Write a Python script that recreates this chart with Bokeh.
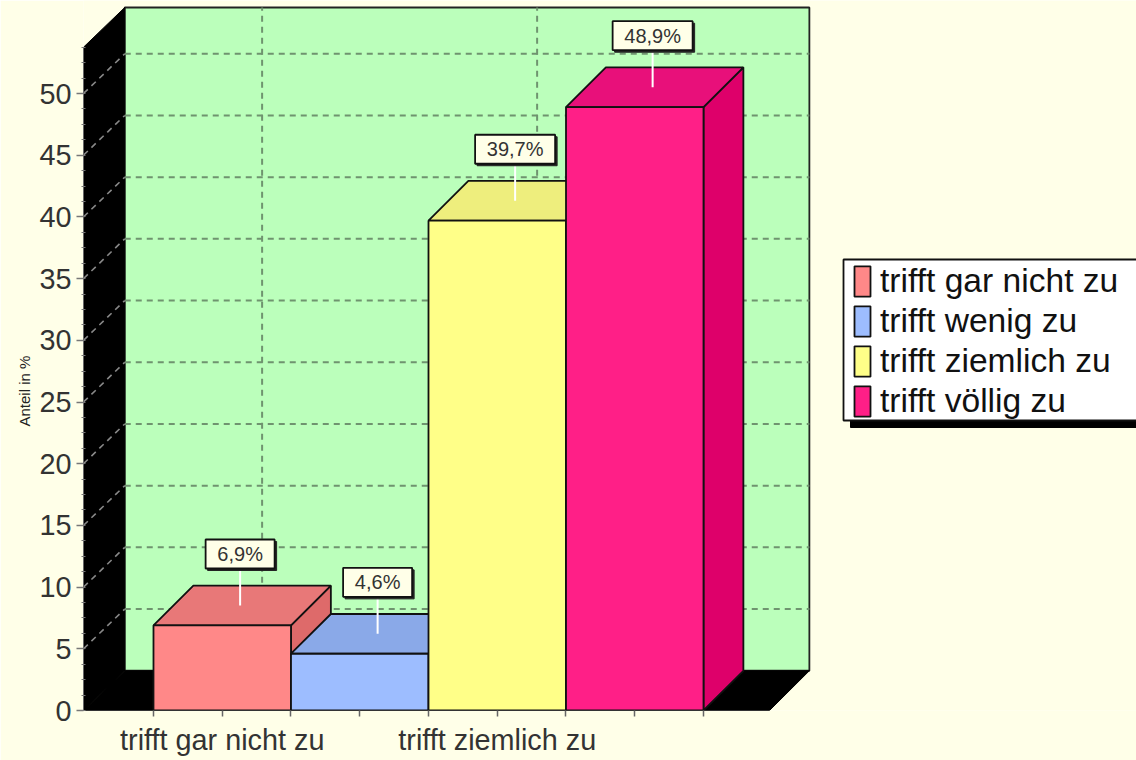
from bokeh.embed import file_html
from bokeh.resources import INLINE
from bokeh.plotting import figure
from bokeh.models import Range1d, FixedTicker, SingleIntervalTicker, Legend, LegendItem, Title
from bokeh.core.properties import value

categories = ["trifft gar nicht zu", "trifft wenig zu", "trifft ziemlich zu", "trifft völlig zu"]
values = [6.9, 4.6, 39.7, 48.9]
value_labels = ["6,9%", "4,6%", "39,7%", "48,9%"]
front_colors = ["#FF8888", "#9DBDFF", "#FFFF88", "#FF1F87"]
top_colors = ["#E87878", "#8AA9E8", "#EEEE7D", "#E8107A"]
side_colors = ["#DE6A6A", "#7F9CE0", "#E4E470", "#DE006A"]
y_major = [5, 10, 15, 20, 25, 30, 35, 40, 45, 50]
x_ticks = [0, 0.5, 1, 1.5, 2, 2.5, 3, 3.5, 4]
x_tick_labels = {0.5: categories[0], 2.5: categories[2]}
box_widths = [69, 69, 80, 80]

FONT = "Liberation Sans"
BG = "#FFFFE8"
WALL = "#BBFFBB"
PXX = 137.5   # pixels per bar
PXY = 12.34   # pixels per percent
X0, X1 = -0.509, 7.149
Y0, Y1 = 0, 710 / PXY
AX_X1, AX_Y1 = 4.48, 53.75
DX, DY = 0.29, 3.22

p = figure(width=1136, height=760, output_backend="svg", toolbar_location=None,
           x_range=Range1d(X0, X1), y_range=Range1d(Y0, Y1),
           background_fill_color=BG, border_fill_color=BG,
           min_border_left=83, min_border_right=0, min_border_top=0, min_border_bottom=50,
           outline_line_color=None, tools="")
p.grid.visible = False

# 3D walls
wx0, wx1 = X0 + 0.3, AX_X1 + DX
wy0, wy1 = DY, AX_Y1 + DY
p.quad(left=wx0, right=wx1, bottom=wy0, top=wy1, fill_color=WALL,
       line_color="#222222", line_width=1.8)
p.patch([X0, X0, wx0, wx0], [0, AX_Y1, wy1, wy0], fill_color="black", line_color="black")
p.patch([X0, wx0, wx1, AX_X1], [0, wy0, wy0, 0], fill_color="black", line_color="black")

# grid
p.multi_line([[wx0, wx1] for _ in y_major], [[v + DY, v + DY] for v in y_major],
             line_color="#6F936F", line_width=2, line_dash="6 5")
p.multi_line([[X0, wx0] for _ in y_major], [[v, v + DY] for v in y_major],
             line_color="#888888", line_width=1.6, line_dash="6 5")
p.multi_line([[t + DX, t + DX] for t in x_tick_labels], [[wy0, wy1] for _ in x_tick_labels],
             line_color="#6F936F", line_width=2, line_dash="6 5")

# bars
fronts = []
for i, v in enumerate(values):
    p.patch([i + 1, i + 1 + DX, i + 1 + DX, i + 1], [v, v + DY, DY, 0],
            fill_color=side_colors[i], line_color="#111111", line_width=1.8)
    p.patch([i, i + DX, i + 1 + DX, i + 1], [v, v + DY, v + DY, v],
            fill_color=top_colors[i], line_color="#111111", line_width=1.8)
    fronts.append(p.quad(left=i, right=i + 1, bottom=0, top=v,
                         fill_color=front_colors[i], line_color="#111111", line_width=1.8))

# value callouts
for i, v in enumerate(values):
    cx = i + 0.5 + 0.13
    y_a = v + DY / 2
    y_b = y_a + 37 / PXY
    h = 29 / PXY
    w = box_widths[i] / PXX
    p.line([cx, cx], [y_a, y_b], line_color="#FFFFFF", line_width=2)
    p.quad(left=cx - w / 2 + 2 / PXX, right=cx + w / 2 + 2 / PXX,
           bottom=y_b - 2 / PXY, top=y_b + h - 2 / PXY, fill_color="#222222", line_color="#222222")
    p.quad(left=cx - w / 2, right=cx + w / 2, bottom=y_b, top=y_b + h,
           fill_color=BG, line_color="#111111", line_width=1.8)
    p.text([cx], [y_b + h / 2], text=[value_labels[i]], text_font=value(FONT),
           text_font_size="20px", text_color="#333333", text_align="center",
           text_baseline="middle")

# legend box, shadow, and legend entries
to_x = lambda px: (px - 154) / PXX
to_y = lambda px: (710 - px) / PXY
p.quad(left=to_x(851), right=X1 + 1, bottom=to_y(427), top=to_y(400),
       fill_color="black", line_color="black")
p.quad(left=to_x(844), right=X1 + 1, bottom=to_y(420), top=to_y(259),
       fill_color="#FFFFFF", line_color="#111111", line_width=1.8)
legend = Legend(items=[LegendItem(label=c, renderers=[r]) for c, r in zip(categories, fronts)],
                location=(769, 290), orientation="vertical",
                glyph_width=20, glyph_height=38, spacing=2, padding=2, margin=0,
                label_standoff=8, label_text_font=FONT, label_text_font_size="33.6px",
                label_text_color="#111111", label_height=32, label_width=250,
                background_fill_alpha=0, border_line_color=None)
p.add_layout(legend)

# axes
ya = p.yaxis[0]
ya.ticker = SingleIntervalTicker(interval=5, num_minor_ticks=4)
ya.bounds = (0, AX_Y1)
ya.major_label_text_font = FONT
ya.major_label_text_font_size = "28.8px"
ya.major_label_text_color = "#333333"
ya.major_label_standoff = 5
ya.axis_line_color = "#666666"
ya.major_tick_line_color = "#777777"
ya.major_tick_line_width = 1.5
ya.major_tick_in = 0
ya.major_tick_out = 7
ya.minor_tick_line_color = "#777777"
ya.minor_tick_in = 2
ya.minor_tick_out = 2

xa = p.xaxis[0]
xa.ticker = FixedTicker(ticks=x_ticks)
xa.bounds = (X0, AX_X1)
xa.major_label_overrides = {t: x_tick_labels.get(t, "") for t in x_ticks}
xa.major_label_text_font = FONT
xa.major_label_text_font_size = "28.8px"
xa.major_label_text_color = "#333333"
xa.major_label_standoff = 7
xa.axis_line_color = "#333333"
xa.major_tick_line_color = "#666666"
xa.major_tick_line_width = 1.5
xa.major_tick_in = 0
xa.major_tick_out = 6
xa.minor_tick_line_color = None

# axis title, placed along the left panel
p.add_layout(Title(text="Anteil in %", align="left", offset=284, standoff=8,
                   text_font=FONT, text_font_style="normal", text_font_size="15px",
                   text_color="#222222"), "left")

open("out.html", "w").write(file_html(p, INLINE))
